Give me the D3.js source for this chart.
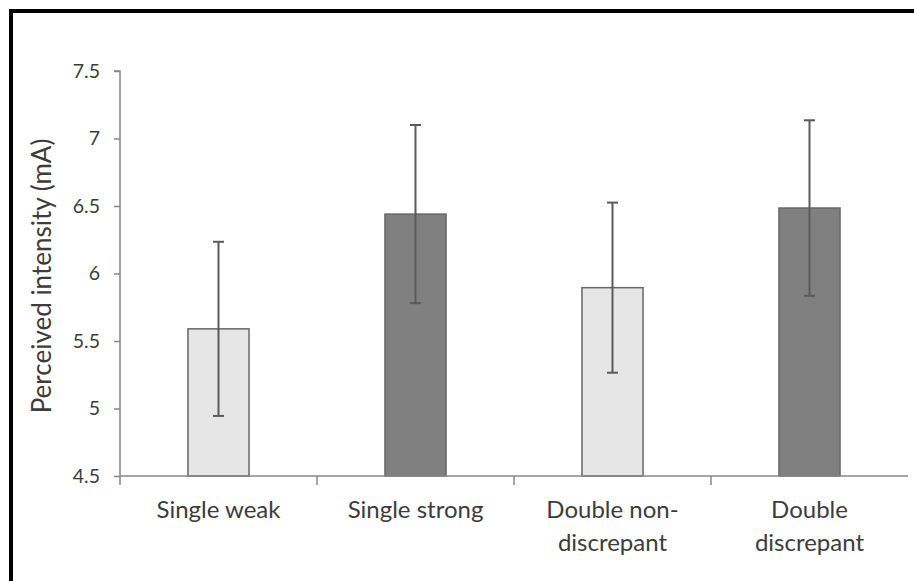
<!DOCTYPE html>
<html>
<head>
<meta charset="utf-8">
<script src="https://cdn.jsdelivr.net/npm/d3@7"></script>
<style>
  html, body { margin: 0; padding: 0; background: #fff; }
  svg { display: block; }
</style>
</head>
<body>
<svg id="chart" width="914" height="581"></svg>
<script>
// Conditions, and the lines each name is broken into under the axis
const categories = ["Single weak", "Single strong", "Double non-discrepant", "Double discrepant"];
const categoryLines = [
  ["Single weak"],
  ["Single strong"],
  ["Double non-", "discrepant"],
  ["Double", "discrepant"]
];
const means  = [5.59, 6.44, 5.895, 6.485];
const errors = [0.645, 0.66, 0.63, 0.65];
const fills  = ["#e6e6e6", "#808080", "#e6e6e6", "#808080"];
const yTicks = [4.5, 5, 5.5, 6, 6.5, 7, 7.5];
const yTitle = "Perceived intensity (mA)";

const FONT = "Lato, 'Open Sans', sans-serif";
const TEXT = "#3c3c3c";
const AXIS = "#878787";

const svg = d3.select("#chart");

// outer frame (open towards right and bottom edge)
svg.append("rect")
  .attr("x", 11).attr("y", 11)
  .attr("width", 1000).attr("height", 1000)
  .attr("fill", "none").attr("stroke", "#000").attr("stroke-width", 4);

const x0 = 120, x1 = 908, yTop = 71, yBot = 476;

const x = d3.scaleBand().domain(categories).range([x0, x1]).paddingInner(0).paddingOuter(0);
const y = d3.scaleLinear().domain([4.5, 7.5]).range([yBot, yTop]);
const barW = x.bandwidth() * 0.31;
const cx = c => x(c) + x.bandwidth() / 2;

// bars
svg.append("g").selectAll("rect").data(categories).join("rect")
  .attr("x", c => cx(c) - barW / 2)
  .attr("y", (c, i) => y(means[i]))
  .attr("width", barW)
  .attr("height", (c, i) => y(4.5) - y(means[i]))
  .attr("fill", (c, i) => fills[i])
  .attr("stroke", "#666")
  .attr("stroke-width", 1.5);

// error bars
const eb = svg.append("g").attr("stroke", "#5a5a5a").attr("stroke-width", 2).attr("fill", "none");
categories.forEach((c, i) => {
  const px = cx(c);
  const hi = y(means[i] + errors[i]), lo = y(means[i] - errors[i]);
  eb.append("line").attr("x1", px).attr("x2", px).attr("y1", hi).attr("y2", lo);
  eb.append("line").attr("x1", px - 5.5).attr("x2", px + 5.5).attr("y1", hi).attr("y2", hi);
  eb.append("line").attr("x1", px - 5.5).attr("x2", px + 5.5).attr("y1", lo).attr("y2", lo);
});

// y axis
const yAxis = d3.axisLeft(y).tickValues(yTicks).tickSize(6).tickPadding(14)
  .tickFormat(d => String(d));
const gy = svg.append("g").attr("transform", `translate(${x0},0)`).call(yAxis);
gy.select(".domain").attr("stroke", AXIS).attr("stroke-width", 1.5)
  .attr("d", `M-6,${yTop}H0V${yBot + 9}`);
gy.selectAll(".tick line").attr("stroke", AXIS).attr("stroke-width", 1.5);
gy.selectAll(".tick text").attr("fill", TEXT).attr("font-family", FONT).attr("font-size", 19.5);

// x axis with separators between categories
const xAxis = d3.axisBottom(x).tickSize(0).tickFormat(() => "");
const gx = svg.append("g").attr("transform", `translate(0,${yBot})`).call(xAxis);
gx.select(".domain").attr("stroke", AXIS).attr("stroke-width", 1.5).attr("d", `M${x0},0H${x1}`);
gx.selectAll(".tick").remove();
const bounds = categories.slice(1).map(c => x(c));
gx.selectAll(".sep").data(bounds).join("line")
  .attr("x1", d => d).attr("x2", d => d).attr("y1", 0).attr("y2", 9)
  .attr("stroke", AXIS).attr("stroke-width", 1.5);

// category labels
categories.forEach((c, i) => {
  const t = svg.append("text").attr("text-anchor", "middle")
    .attr("fill", TEXT).attr("font-family", FONT).attr("font-size", 24);
  categoryLines[i].forEach((ln, k) => {
    t.append("tspan").attr("x", cx(c)).attr("y", 518 + k * 33).text(ln);
  });
});

// y axis title
svg.append("text")
  .attr("transform", `translate(51,276) rotate(-90)`)
  .attr("text-anchor", "middle")
  .attr("fill", TEXT).attr("font-family", FONT).attr("font-size", 26)
  .text(yTitle);
</script>
</body>
</html>
